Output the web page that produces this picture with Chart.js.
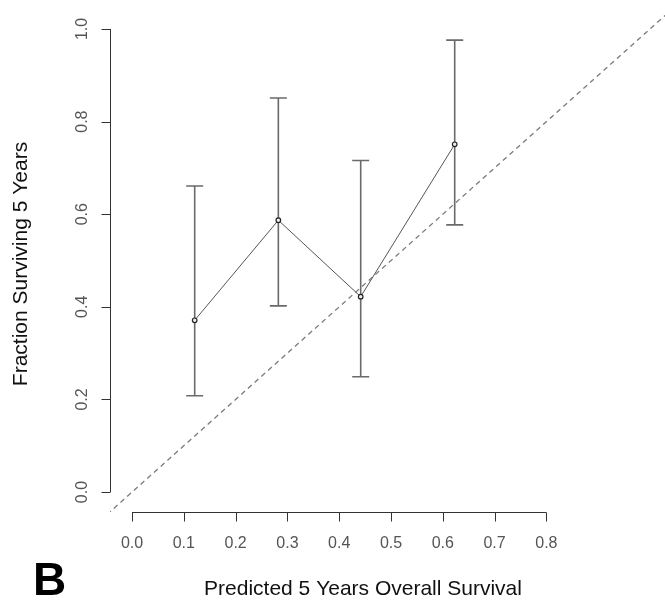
<!DOCTYPE html>
<html>
<head>
<meta charset="utf-8">
<script src="https://cdn.jsdelivr.net/npm/chart.js@4/dist/chart.umd.min.js"></script>
<style>
  html, body { margin: 0; padding: 0; background: #fff; }
  canvas { display: block; }
</style>
</head>
<body>
<canvas id="calib" width="665" height="604"></canvas>
<script>
// Data
const predicted = [0.121, 0.2825, 0.4415, 0.623];
const observed  = [0.371, 0.587, 0.422, 0.751];
const upper     = [0.661, 0.851, 0.716, 0.976];
const lower     = [0.208, 0.402, 0.249, 0.577];
const refLine   = [-0.1, 1.1];              // ideal y = x line
const xTicks    = [0, 0.1, 0.2, 0.3, 0.4, 0.5, 0.6, 0.7, 0.8];
const yTicks    = [0, 0.2, 0.4, 0.6, 0.8, 1.0];

const FONT = '"Liberation Sans", Arial, sans-serif';

// R-style axes, labels and error bars
const rAxes = {
    id: 'rAxes',
    beforeDatasetsDraw(chart) {
        const ctx = chart.ctx;
        const xs = chart.scales.x, ys = chart.scales.y;
        ctx.save();
        ctx.strokeStyle = '#6a6a6a';
        ctx.lineWidth = 1.6;
        predicted.forEach((p, i) => {
            const px = xs.getPixelForValue(p);
            const top = ys.getPixelForValue(upper[i]);
            const bot = ys.getPixelForValue(lower[i]);
            ctx.beginPath();
            ctx.moveTo(px, top); ctx.lineTo(px, bot);
            ctx.moveTo(px - 8.5, top); ctx.lineTo(px + 8.5, top);
            ctx.moveTo(px - 8.5, bot); ctx.lineTo(px + 8.5, bot);
            ctx.stroke();
        });
        ctx.restore();
    },
    afterDraw(chart) {
        const ctx = chart.ctx;
        const xs = chart.scales.x, ys = chart.scales.y;
        const area = chart.chartArea;
        ctx.save();
        ctx.strokeStyle = '#333';
        ctx.lineWidth = 1;

        // x axis
        const ax = area.bottom + 0.5;
        ctx.beginPath();
        ctx.moveTo(xs.getPixelForValue(xTicks[0]), ax);
        ctx.lineTo(xs.getPixelForValue(xTicks[xTicks.length - 1]), ax);
        xTicks.forEach(t => {
            const px = Math.round(xs.getPixelForValue(t)) + 0.5;
            ctx.moveTo(px, ax); ctx.lineTo(px, ax + 9);
        });
        ctx.stroke();

        // y axis
        const ay = area.left + 0.5;
        ctx.beginPath();
        ctx.moveTo(ay, ys.getPixelForValue(yTicks[0]));
        ctx.lineTo(ay, ys.getPixelForValue(yTicks[yTicks.length - 1]));
        yTicks.forEach(t => {
            const py = Math.round(ys.getPixelForValue(t)) + 0.5;
            ctx.moveTo(ay, py); ctx.lineTo(ay - 9, py);
        });
        ctx.stroke();

        // tick labels
        ctx.fillStyle = '#555';
        ctx.font = '16px ' + FONT;
        ctx.textAlign = 'center';
        ctx.textBaseline = 'middle';
        xTicks.forEach(t => {
            ctx.fillText(t.toFixed(1), xs.getPixelForValue(t), ax + 31);
        });
        yTicks.forEach(t => {
            ctx.save();
            ctx.translate(ay - 28, ys.getPixelForValue(t));
            ctx.rotate(-Math.PI / 2);
            ctx.fillText(t.toFixed(1), 0, 0);
            ctx.restore();
        });

        // axis titles
        ctx.fillStyle = '#111';
        ctx.font = '21px ' + FONT;
        ctx.fillText('Predicted 5 Years Overall Survival', 363, 589);
        ctx.save();
        ctx.translate(21, 264);
        ctx.rotate(-Math.PI / 2);
        ctx.fillText('Fraction Surviving 5 Years', 0, 0);
        ctx.restore();

        // panel letter
        ctx.fillStyle = '#000';
        ctx.font = 'bold 46px ' + FONT;
        ctx.textAlign = 'left';
        ctx.textBaseline = 'alphabetic';
        ctx.fillText('B', 33, 595);
        ctx.restore();
    }
};

new Chart(document.getElementById('calib'), {
    type: 'scatter',
    data: {
        datasets: [
            {
                label: 'Observed',
                data: predicted.map((p, i) => ({ x: p, y: observed[i] })),
                showLine: true,
                borderColor: '#555',
                borderWidth: 1,
                pointRadius: 2.3,
                pointBorderColor: '#222',
                pointBackgroundColor: '#eee',
                pointBorderWidth: 1.2,
                clip: 0
            },
            {
                label: 'Ideal',
                data: refLine.map(v => ({ x: v, y: v })),
                showLine: true,
                borderColor: '#7a7a7a',
                borderWidth: 1.3,
                borderDash: [5, 4],
                pointRadius: 0,
                clip: 0
            }
        ]
    },
    options: {
        responsive: false,
        animation: false,
        layout: { autoPadding: false, padding: { left: 110, right: 0, top: 10, bottom: 92 } },
        scales: {
            x: { type: 'linear', min: -0.0425, max: 1.029, display: false },
            y: { type: 'linear', min: -0.043, max: 1.041, display: false }
        },
        plugins: {
            legend: { display: false },
            tooltip: { enabled: false }
        }
    },
    plugins: [rAxes]
});
</script>
</body>
</html>
